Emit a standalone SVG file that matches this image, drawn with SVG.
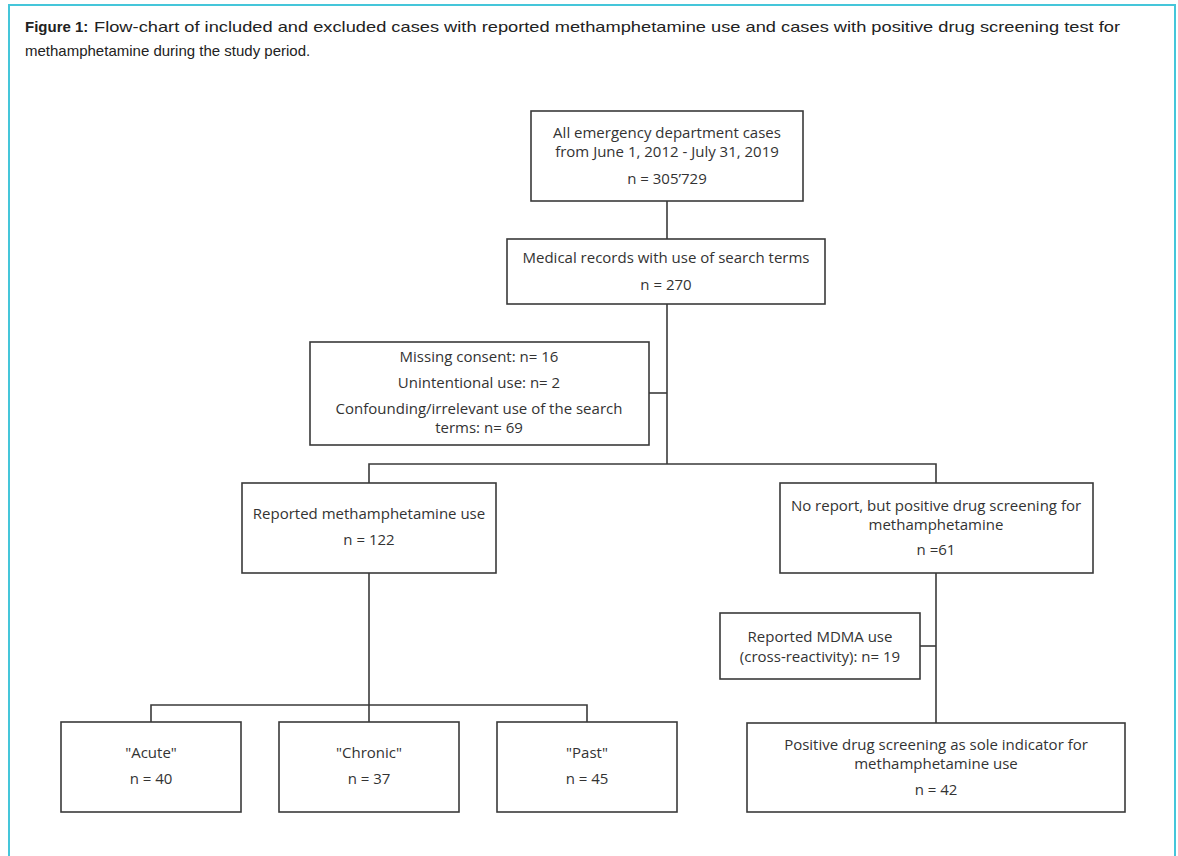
<svg xmlns="http://www.w3.org/2000/svg" width="1178" height="856" viewBox="0 0 1178 856">
<style>
.box{fill:#fff;stroke:#3a3a3a;stroke-width:1.6}
.c{fill:none;stroke:#3a3a3a;stroke-width:1.6}
.t{font-family:"Open Sans","Liberation Sans",sans-serif;font-size:15px;fill:#333;text-anchor:middle}
.cap{font-family:"Liberation Sans",Arial,sans-serif;font-size:15px;fill:#222}
</style>
<rect x="0" y="0" width="1178" height="856" fill="#fff"/>
<rect x="9" y="5" width="1166" height="900" fill="none" stroke="#45c6da" stroke-width="2"/>
<g id="caption">
<text class="cap" x="25" y="32" font-weight="bold">Figure 1:</text>
<text class="cap" x="94" y="32" textLength="1026" lengthAdjust="spacingAndGlyphs">Flow-chart of included and excluded cases with reported methamphetamine use and cases with positive drug screening test for</text>
<text class="cap" x="25" y="56">methamphetamine during the study period.</text>
</g>
<g id="connectors">
<path class="c" d="M667,201V239"/>
<path class="c" d="M667,304V464"/>
<path class="c" d="M649,393H667"/>
<path class="c" d="M369,483V464H936V483"/>
<path class="c" d="M369,573V722"/>
<path class="c" d="M151,722V705H587V722"/>
<path class="c" d="M936,573V723"/>
<path class="c" d="M920,646H936"/>
</g>
<g id="n1">
<rect class="box" x="531" y="111" width="272" height="90"/>
<text class="t" x="667" y="138">All emergency department cases</text>
<text class="t" x="667" y="157">from June 1, 2012  - July 31, 2019</text>
<text class="t" x="667" y="184">n = 305’729</text>
</g>
<g id="n2">
<rect class="box" x="507" y="239" width="318" height="65"/>
<text class="t" x="666" y="263">Medical records with use of search terms</text>
<text class="t" x="666" y="290">n = 270</text>
</g>
<g id="excluded">
<rect class="box" x="310" y="342" width="339" height="103"/>
<text class="t" x="479" y="362">Missing consent: n= 16</text>
<text class="t" x="479" y="388">Unintentional use: n= 2</text>
<text class="t" x="479" y="414">Confounding/irrelevant use of the search</text>
<text class="t" x="479" y="433">terms: n= 69</text>
</g>
<g id="reported">
<rect class="box" x="242" y="483" width="254" height="90"/>
<text class="t" x="369" y="519">Reported methamphetamine use</text>
<text class="t" x="369" y="545">n = 122</text>
</g>
<g id="noreport">
<rect class="box" x="780" y="483" width="313" height="90"/>
<text class="t" x="936" y="511">No report, but positive drug screening for</text>
<text class="t" x="936" y="530">methamphetamine</text>
<text class="t" x="936" y="555">n =61</text>
</g>
<g id="mdma">
<rect class="box" x="720" y="613" width="200" height="66"/>
<text class="t" x="820" y="642">Reported MDMA  use</text>
<text class="t" x="820" y="662">(cross-reactivity): n= 19</text>
</g>
<g id="acute">
<rect class="box" x="61" y="722" width="180" height="90"/>
<text class="t" x="151" y="758">"Acute"</text>
<text class="t" x="151" y="784">n = 40</text>
</g>
<g id="chronic">
<rect class="box" x="279" y="722" width="180" height="90"/>
<text class="t" x="369" y="758">"Chronic"</text>
<text class="t" x="369" y="784">n = 37</text>
</g>
<g id="past">
<rect class="box" x="497" y="722" width="180" height="90"/>
<text class="t" x="587" y="758">"Past"</text>
<text class="t" x="587" y="784">n = 45</text>
</g>
<g id="positive">
<rect class="box" x="747" y="723" width="378" height="89"/>
<text class="t" x="936" y="750">Positive drug screening as sole indicator for</text>
<text class="t" x="936" y="769">methamphetamine use</text>
<text class="t" x="936" y="795">n = 42</text>
</g>
</svg>
